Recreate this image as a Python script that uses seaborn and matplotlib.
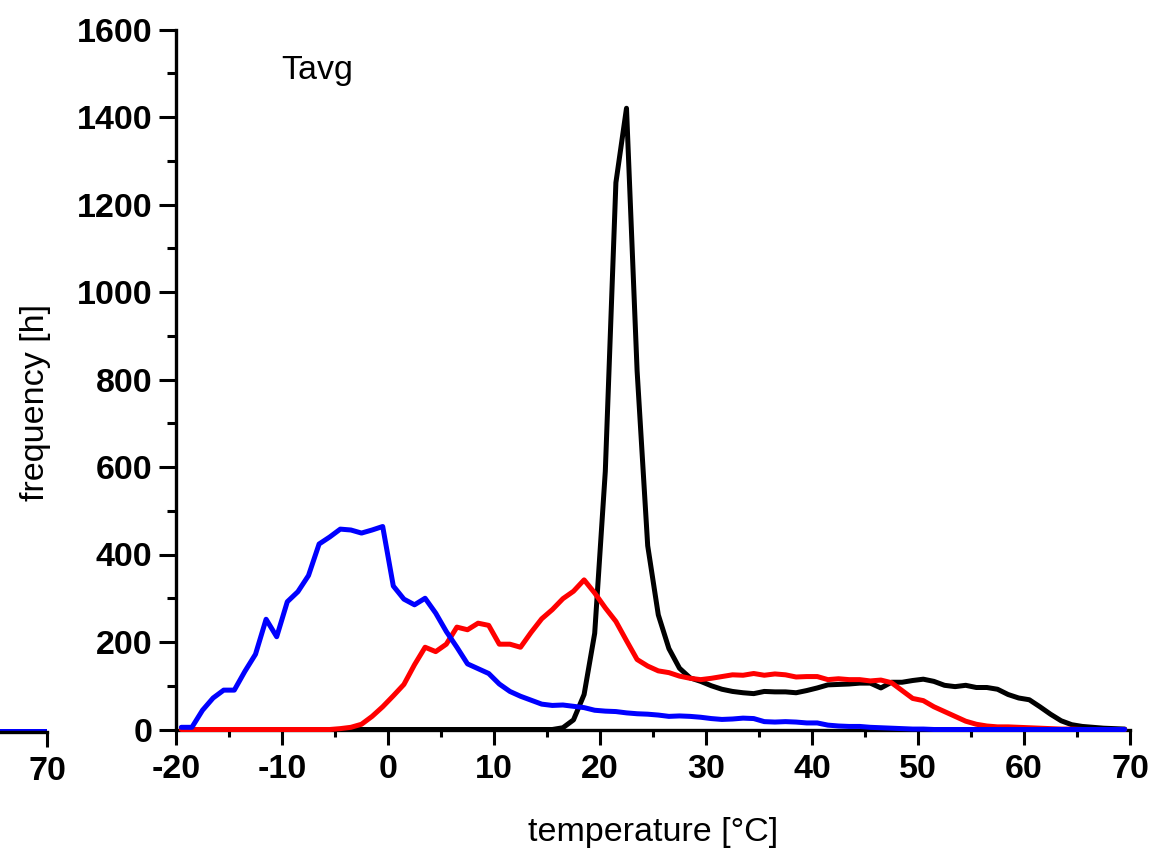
import numpy as np
import pandas as pd
import matplotlib.pyplot as plt
from matplotlib.ticker import MultipleLocator
import seaborn as sns

# bin centres of the temperature histogram [°C]
temp = np.arange(-19.5, 70, 1.0)

blue = [5, 5, 44, 72, 90, 90, 133, 172, 252, 212,
        292, 315, 352, 424, 440, 458, 456, 449, 456, 464,
        328, 298, 285, 300, 266, 224, 188, 150, 139, 128,
        104, 87, 76, 67, 58, 55, 56, 53, 50, 44,
        42, 41, 38, 36, 35, 33, 30, 31, 30, 28,
        25, 23, 24, 26, 25, 18, 17, 18, 17, 15,
        15, 10, 8, 7, 7, 5, 4, 3, 2, 1,
        1, 0, 0, 0, 0, 0, 0, 0, 0, 0,
        0, 0, 0, 0, 0, 0, 0, 0, 0, 0]

red = [0, 0, 0, 0, 0, 0, 0, 0, 0, 0,
       0, 0, 0, 0, 0, 2, 5, 12, 30, 52,
       77, 103, 148, 188, 178, 195, 234, 228, 243, 238,
       195, 195, 188, 222, 253, 274, 299, 316, 342, 312,
       278, 247, 203, 160, 145, 134, 130, 122, 117, 114,
       117, 121, 125, 124, 128, 124, 127, 125, 120, 121,
       121, 114, 116, 114, 114, 111, 113, 107, 89, 71,
       66, 52, 41, 30, 19, 12, 8, 6, 6, 5,
       4, 3, 2, 1, 1, 0, 0, 0, 0, 0]

black = [0, 0, 0, 0, 0, 0, 0, 0, 0, 0,
         0, 0, 0, 0, 0, 0, 0, 0, 0, 0,
         0, 0, 0, 0, 0, 0, 0, 0, 0, 0,
         0, 0, 0, 0, 0, 0, 4, 22, 80, 220,
         590, 1250, 1420, 820, 420, 262, 185, 140, 118, 110,
         100, 92, 87, 84, 82, 87, 86, 86, 84, 89,
         95, 102, 103, 104, 106, 106, 95, 108, 108, 112,
         115, 110, 101, 98, 101, 96, 96, 92, 80, 72,
         68, 52, 35, 20, 11, 7, 5, 3, 2, 1]

# leftover piece of the neighbouring panel (only its right end is visible)
frag_temp = [50, 60, 70]
frag_blue = [3, 3, 3]
frag_ticks = [70]

df = pd.DataFrame({"temp": temp, "blue": blue, "red": red, "black": black})

sns.set_theme(style="ticks")
plt.rcParams["font.family"] = ["Liberation Sans", "DejaVu Sans"]
plt.rcParams["axes.unicode_minus"] = False
plt.rcParams["text.color"] = "black"
plt.rcParams["xtick.color"] = "black"
plt.rcParams["ytick.color"] = "black"
plt.rcParams["xtick.labelcolor"] = "black"
plt.rcParams["ytick.labelcolor"] = "black"

W, H = 1153, 850
FS = 24.5
fig = plt.figure(figsize=(W / 100, H / 100), dpi=100)
ax = fig.add_axes([176 / W, 1 - 729.5 / H, 954 / W, 700 / H])
ax.set_facecolor("none")

lw = 3.6
for col, c in [("black", "black"), ("red", "red"), ("blue", "blue")]:
    sns.lineplot(data=df, x="temp", y=col, color=c, lw=lw, ax=ax,
                 zorder=3, clip_on=False)

ax.set_xlim(-20, 70)
ax.set_ylim(0, 1600)
ax.xaxis.set_major_locator(MultipleLocator(10))
ax.xaxis.set_minor_locator(MultipleLocator(5))
ax.yaxis.set_major_locator(MultipleLocator(200))
ax.yaxis.set_minor_locator(MultipleLocator(100))

for s in ["top", "right"]:
    ax.spines[s].set_visible(False)
for s in ["left", "bottom"]:
    ax.spines[s].set_linewidth(2.4)
    ax.spines[s].set_color("black")

ax.tick_params(which="both", direction="out", width=2.2, labelsize=FS)
ax.tick_params(axis="x", which="major", length=10.5, pad=7)
ax.tick_params(axis="x", which="minor", length=5)
ax.tick_params(axis="y", which="major", length=12, pad=5)
ax.tick_params(axis="y", which="minor", length=6.5)
for lbl in ax.get_xticklabels() + ax.get_yticklabels():
    lbl.set_fontweight("bold")

ax.set_xlabel("")
ax.set_ylabel("")
ax.text(0.5, (729.5 - 833) / 700, "temperature [°C]", transform=ax.transAxes,
        fontsize=FS, ha="center", va="center")
ax.text((36 - 176) / 954, (729.5 - 402) / 700, "frequency [h]",
        transform=ax.transAxes, fontsize=FS, ha="center", va="center",
        rotation=90)
ax.text(0.1108, 0.930, "Tavg", transform=ax.transAxes, fontsize=FS,
        ha="left", va="baseline")

# cut-off panel on the left edge
ax2 = fig.add_axes([-907 / W, 1 - 732 / H, 954 / W, 700 / H])
ax2.set_facecolor("none")
sns.lineplot(x=frag_temp, y=frag_blue, color="blue", lw=lw, ax=ax2, zorder=2)
ax2.set_xlim(-20, 70)
ax2.set_ylim(0, 1600)
ax2.set_xticks(frag_ticks)
for s in ["top", "right", "left"]:
    ax2.spines[s].set_visible(False)
ax2.spines["bottom"].set_linewidth(2.4)
ax2.spines["bottom"].set_color("black")
ax2.set_yticks([])
ax2.set_ylabel("")
ax2.set_xlabel("")
ax2.tick_params(axis="x", which="major", direction="out", length=10.5,
                width=2.2, labelsize=FS, pad=7)
for lbl in ax2.get_xticklabels():
    lbl.set_fontweight("bold")

fig.savefig("out.png", dpi=100)
